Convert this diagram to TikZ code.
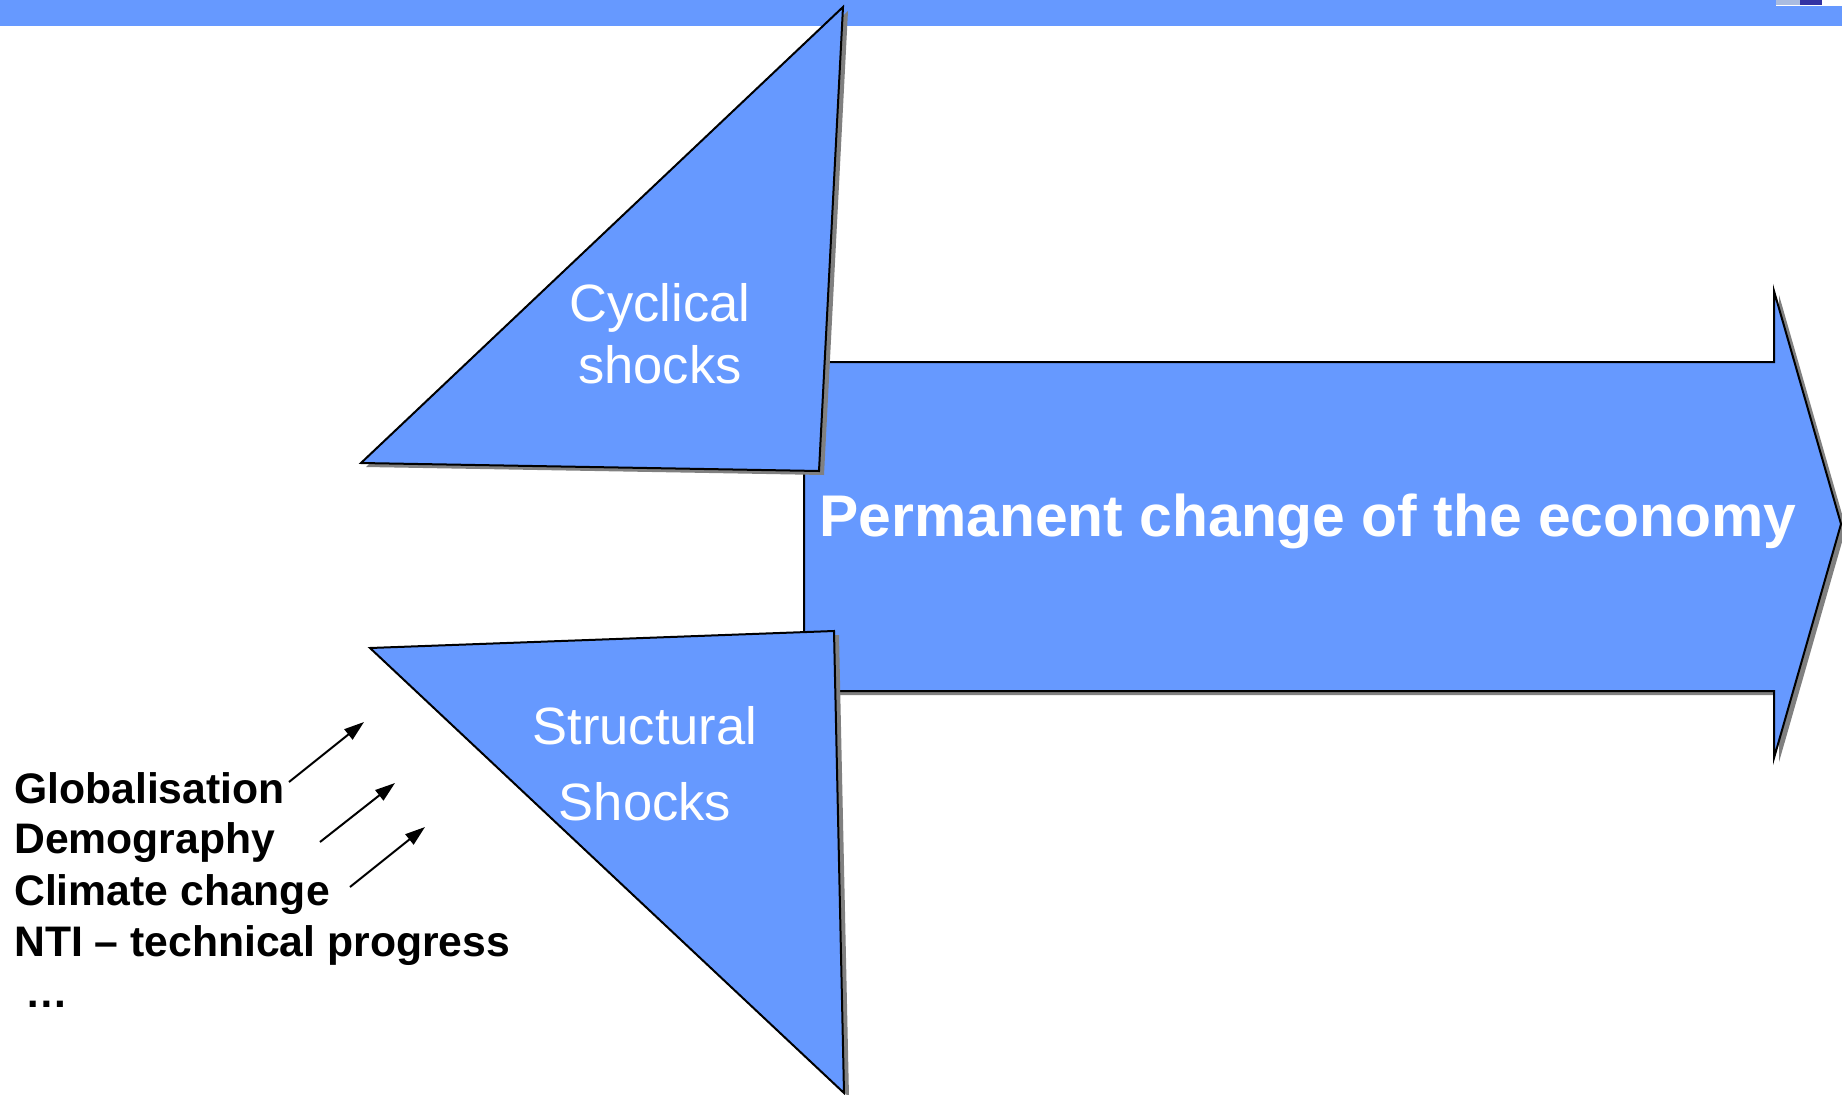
\documentclass[tikz,border=0pt]{standalone}
\usepackage{fontspec}
\setmainfont{Liberation Sans}
\usepackage{xcolor}
\usetikzlibrary{arrows.meta, positioning}
\definecolor{shockblue}{HTML}{6699FF}
\definecolor{shadowgray}{HTML}{808080}

\begin{document}
\begin{tikzpicture}
  [
    x=1pt, y=-1pt,
    Blue/.style={fill=shockblue, draw=black, line width=2pt, line join=miter,
      preaction={fill=shadowgray, transform canvas={xshift=5pt, yshift=-4pt}}},
    White/.style={text=white, inner sep=0pt, anchor=base},
    List/.style={text=black, inner sep=0pt, anchor=base west, font={\fontsize{42.7pt}{51pt}\bfseries}},
    Pointer/.style={-{Triangle[length=20pt, width=13pt]}, line width=2pt}
  ]
  \useasboundingbox (0,0) rectangle (1842,1095);
  \fill[white] (0,0) rectangle (1842,1095);

  % Top bar
  \fill[shockblue] (0,0) rectangle (1842,26);
  \fill[white] (1776,0) rectangle (1842,6);
  \fill[shockblue!60!gray!60] (1776,0) rectangle (1800,5);
  \fill[blue!55!black!80] (1800,0) rectangle (1822,5);

  % Corners
  \coordinate (p1) at (804,362);
  \coordinate (p2) at (1774,362);
  \coordinate (p3) at (1774,291);
  \coordinate (p4) at (1841,524);
  \coordinate (p5) at (1774,758);
  \coordinate (p6) at (1774,691);
  \coordinate (p7) at (804,691);
  \coordinate (c1) at (843,7);
  \coordinate (c2) at (361,463);
  \coordinate (c3) at (819,471);
  \coordinate (s1) at (370,648);
  \coordinate (s2) at (834,631);
  \coordinate (s3) at (844,1093);

  % Shapes
  \path[Blue] (p1) -- (p2) -- (p3) -- (p4) -- (p5) -- (p6) -- (p7) -- cycle;
  \path[Blue] (c1) -- (c2) -- (c3) -- cycle;
  \path[Blue] (s1) -- (s2) -- (s3) -- cycle;

  % Nodes
  \node[White, font={\fontsize{58.8pt}{70pt}\bfseries}] (perm) at (1308,536) {Permanent change of the economy};
  \node[White, font={\fontsize{52.5pt}{63pt}\selectfont}] (cyc1) at (660,321) {Cyclical};
  \node[White, font={\fontsize{52.5pt}{63pt}\selectfont}] (cyc2) at (660,383) {shocks};
  \node[White, font={\fontsize{52.5pt}{63pt}\selectfont}] (str1) at (645,744) {Structural};
  \node[White, font={\fontsize{52.5pt}{63pt}\selectfont}] (str2) at (645,820) {Shocks};

  \node[List] (glob) at (14,803) {Globalisation};
  \node[List] (demo) at (14,853) {Demography};
  \node[List] (clim) at (14,905) {Climate change};
  \node[List] (nti) at (14,956) {NTI – technical progress};
  \node[List] (more) at (25,1007) {…};

  % Lines
  \coordinate (g1) at (289,782);
  \coordinate (g2) at (364,722);
  \coordinate (d1) at (320,842);
  \coordinate (d2) at (395,783);
  \coordinate (k1) at (350,887);
  \coordinate (k2) at (425,827);
  \draw[Pointer] (g1) -- (g2);
  \draw[Pointer] (d1) -- (d2);
  \draw[Pointer] (k1) -- (k2);

\end{tikzpicture}
\end{document}
